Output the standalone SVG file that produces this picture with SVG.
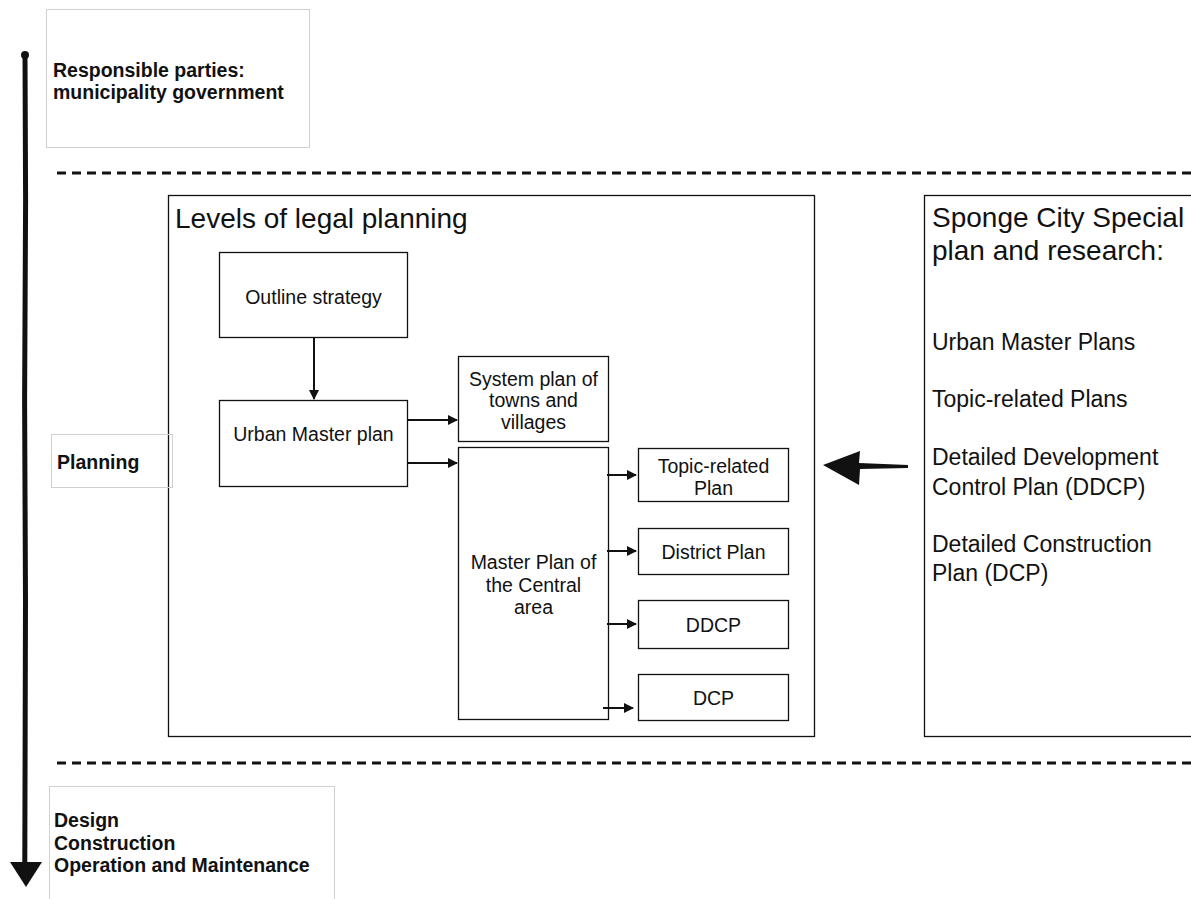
<svg xmlns="http://www.w3.org/2000/svg" width="1191" height="899" viewBox="0 0 1191 899">
<style>
.lbl{fill:none;stroke:#d0d0d0;stroke-width:1}
.box{fill:#fff;stroke:#111;stroke-width:1.3}
.side{font-family:"Liberation Sans",Arial,sans-serif;font-weight:bold;font-size:19.5px;fill:#111}
.t{font-family:"Liberation Sans",Arial,sans-serif;font-size:19.5px;fill:#111;text-anchor:middle}
.big{font-family:"Liberation Sans",Arial,sans-serif;font-size:28px;fill:#111}
.item{font-family:"Liberation Sans",Arial,sans-serif;font-size:23px;fill:#111}
.dash{stroke:#111;stroke-width:3;stroke-dasharray:9 6;fill:none}
.conn{stroke:#111;stroke-width:2;fill:none}
</style>
<defs>
<marker id="ah" viewBox="0 0 10 10" refX="9" refY="5" markerWidth="5" markerHeight="5" orient="auto" markerUnits="strokeWidth">
<path d="M0,0 L10,5 L0,10 z" fill="#111"/>
</marker>
</defs>
<rect width="1191" height="899" fill="#fff"/>

<g id="timeline">
<path d="M25,55 L25.6,200 L24.6,400 L25.5,600 L24.8,866" stroke="#111" stroke-width="5" fill="none" stroke-linecap="round"/>
<circle cx="25" cy="55" r="4" fill="#111"/>
<path d="M10,862 L42,862 L26,887 z" fill="#111"/>
</g>

<g id="dividers">
<line class="dash" x1="57" y1="173" x2="1191" y2="173"/>
<line class="dash" x1="57" y1="763" x2="1191" y2="763"/>
</g>

<g id="responsible">
<rect class="lbl" x="46.5" y="9.5" width="263" height="138"/>
<text class="side" x="53" y="77">Responsible parties:</text>
<text class="side" x="53" y="99">municipality government</text>
</g>

<g id="design">
<rect class="lbl" x="49.5" y="786.5" width="285" height="120"/>
<text class="side" x="54" y="827">Design</text>
<text class="side" x="54" y="850">Construction</text>
<text class="side" x="54" y="872">Operation and Maintenance</text>
</g>

<g id="levels">
<rect class="box" x="168.5" y="195.5" width="646" height="541"/>
<text class="big" x="175" y="228">Levels of legal planning</text>
</g>

<g id="planning">
<rect class="lbl" x="51.5" y="434.5" width="121" height="53"/>
<text class="side" x="57" y="469">Planning</text>
</g>

<g id="outline">
<rect class="box" x="219.5" y="252.5" width="188" height="85"/>
<text class="t" x="313.5" y="304">Outline strategy</text>
</g>

<g id="urban">
<rect class="box" x="219.5" y="400.5" width="188" height="86"/>
<text class="t" x="313.5" y="441">Urban Master plan</text>
</g>

<g id="system">
<rect class="box" x="458.5" y="356.5" width="150" height="85"/>
<text class="t" x="533.5" y="386">System plan of</text>
<text class="t" x="533.5" y="407">towns and</text>
<text class="t" x="533.5" y="429">villages</text>
</g>

<g id="central">
<rect class="box" x="458.5" y="447.5" width="150" height="272"/>
<text class="t" x="533.5" y="569">Master Plan of</text>
<text class="t" x="533.5" y="592">the Central</text>
<text class="t" x="533.5" y="614">area</text>
</g>

<g id="topic">
<rect class="box" x="638.5" y="448.5" width="150" height="53"/>
<text class="t" x="713.5" y="473">Topic-related</text>
<text class="t" x="713.5" y="495">Plan</text>
</g>

<g id="district">
<rect class="box" x="638.5" y="528.5" width="150" height="46"/>
<text class="t" x="713.5" y="559">District Plan</text>
</g>

<g id="ddcp">
<rect class="box" x="638.5" y="600.5" width="150" height="48"/>
<text class="t" x="713.5" y="632">DDCP</text>
</g>

<g id="dcp">
<rect class="box" x="638.5" y="674.5" width="150" height="46"/>
<text class="t" x="713.5" y="705">DCP</text>
</g>

<g id="sponge">
<rect class="box" x="924.5" y="195.5" width="280" height="541"/>
<text class="big" x="932" y="227">Sponge City Special</text>
<text class="big" x="932" y="260">plan and research:</text>
<text class="item" x="932" y="350">Urban Master Plans</text>
<text class="item" x="932" y="407">Topic-related Plans</text>
<text class="item" x="932" y="465">Detailed Development</text>
<text class="item" x="932" y="495">Control Plan (DDCP)</text>
<text class="item" x="932" y="552">Detailed Construction</text>
<text class="item" x="932" y="581">Plan (DCP)</text>
</g>

<g id="connectors">
<line class="conn" x1="314" y1="338" x2="314" y2="399" marker-end="url(#ah)"/>
<line class="conn" x1="408" y1="420" x2="457" y2="420" marker-end="url(#ah)"/>
<line class="conn" x1="408" y1="463" x2="457" y2="463" marker-end="url(#ah)"/>
<line class="conn" x1="607" y1="475" x2="636" y2="475" marker-end="url(#ah)"/>
<line class="conn" x1="607" y1="551" x2="636" y2="551" marker-end="url(#ah)"/>
<line class="conn" x1="607" y1="624" x2="636" y2="624" marker-end="url(#ah)"/>
<line class="conn" x1="603" y1="708" x2="633" y2="708" marker-end="url(#ah)"/>
<path d="M908,465 L859,463 L860,451 L823,465 L859,485 L860,469 L908,468 z" fill="#111"/>
</g>
</svg>
